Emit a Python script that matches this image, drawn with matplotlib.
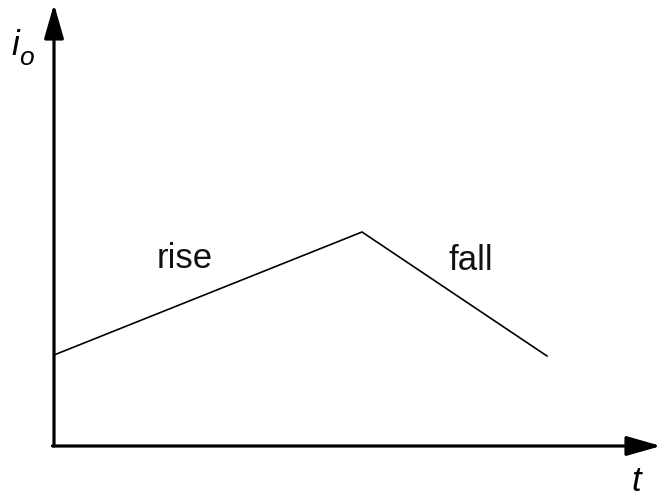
import matplotlib
matplotlib.use("Agg")
import matplotlib.pyplot as plt

plt.rcParams['font.family'] = ['Liberation Sans', 'DejaVu Sans']

# output current: linear rise, then linear fall
t_pts = [0.0, 3.08, 4.93]
i_pts = [0.91, 2.14, 0.90]
seg_labels = ['rise', 'fall']
label_pos = [(1.305, 1.88), (4.17, 1.86)]

fig = plt.figure(figsize=(6.62, 4.98), dpi=100)
ax = fig.add_axes([0, 0, 1, 1])
ax.set_xlim(-0.54, 6.08)
ax.set_ylim(-0.52, 4.46)
ax.axis('off')

# axes with arrow heads
arrow = dict(arrowstyle='-|>,head_length=2.1,head_width=0.6', mutation_scale=10,
             lw=2.3, color='black', shrinkA=0, shrinkB=0)
ax.annotate('', xy=(0, 4.42), xytext=(0, 0), arrowprops=arrow)
ax.annotate('', xy=(6.07, 0), xytext=(-0.015, 0), arrowprops=arrow)

ax.plot(t_pts, i_pts, color='black', lw=1.2, solid_joinstyle='miter')

for lab, (x, y) in zip(seg_labels, label_pos):
    ax.text(x, y, lab, fontsize=25, ha='center', va='center', color='#111111')

# axis names: i with subscript o, and t
ax.text(-0.43, 3.91, 'i', fontsize=25, style='italic', ha='left', va='baseline')
ax.text(-0.35, 3.81, 'o', fontsize=19, style='italic', ha='left', va='baseline')
ax.text(5.82, -0.35, 't', fontsize=25, style='italic', ha='center', va='center')

fig.savefig('out.png', dpi=100)
